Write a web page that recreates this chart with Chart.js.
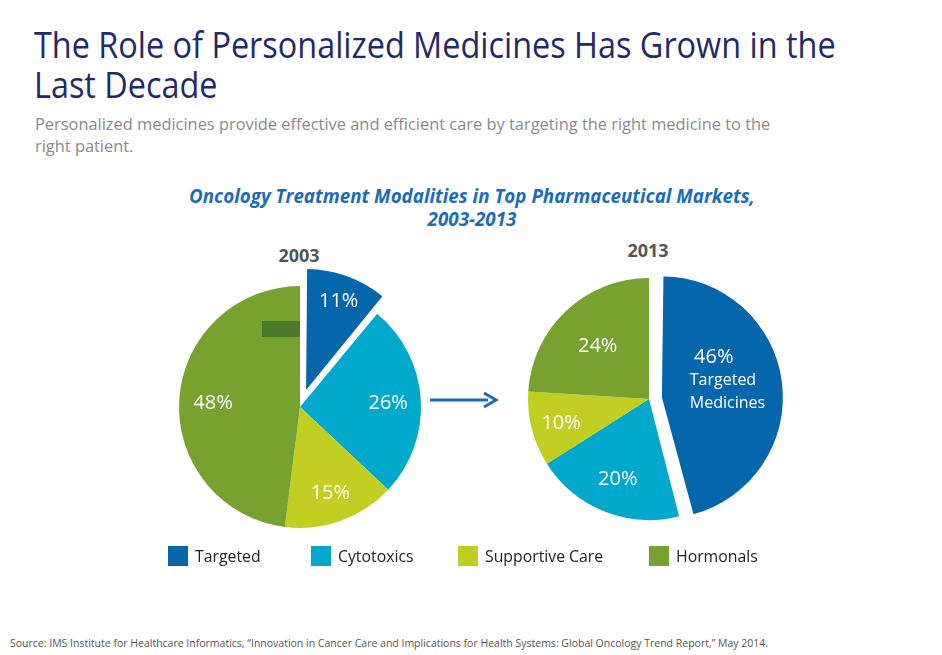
<!DOCTYPE html>
<html>
<head>
<meta charset="utf-8">
<script src="https://cdn.jsdelivr.net/npm/chart.js@4.4.1/dist/chart.umd.min.js"></script>
<style>
  body { margin: 0; background: #fff; }
  #page { position: relative; width: 942px; height: 655px; overflow: hidden;
          font-family: "Open Sans", sans-serif; }
  #title { position: absolute; left: 34px; top: 25px; font-size: 36px; line-height: 40px; color: #1f2a68;
           white-space: nowrap; transform: scaleX(0.9); transform-origin: 0 0; }
  #subtitle { position: absolute; left: 35px; top: 113px; font-size: 16.4px; line-height: 22px; color: #8a8a8a;
              white-space: nowrap; }
  #chartTitle { position: absolute; left: 0; width: 944px; top: 185px; text-align: center;
                font-size: 18.8px; line-height: 23px; font-weight: bold; font-style: italic; color: #1b6db3; }
  .year { position: absolute; font-size: 18px; font-weight: bold; color: #555; width: 80px; text-align: center; }
  .pie { position: absolute; width: 300px; height: 300px; }
  #arrow { position: absolute; left: 426px; top: 390px; }
  #legend { position: absolute; left: 0; top: 545px; width: 942px; height: 24px; font-size: 15.8px; color: #222; }
  #legend .item { position: absolute; top: 0; display: flex; align-items: center; white-space: nowrap; }
  #legend .item:nth-child(1) { left: 168px; }
  #legend .item:nth-child(2) { left: 311px; }
  #legend .item:nth-child(3) { left: 458px; }
  #legend .item:nth-child(4) { left: 649px; }
  #legend .box { width: 20px; height: 20px; margin-right: 7px; }
  #source { position: absolute; left: 10px; top: 636px; font-size: 10.5px; color: #555; white-space: nowrap; }
</style>
</head>
<body>
<div id="page">
  <div id="title">The Role of Personalized Medicines Has Grown in the<br>Last Decade</div>
  <div id="subtitle">Personalized medicines provide effective and efficient care by targeting the right medicine to the<br>right patient.</div>
  <div id="chartTitle">Oncology Treatment Modalities in Top Pharmaceutical Markets,<br>2003-2013</div>
  <div class="year" id="year0" style="left:259px; top:243px;"></div>
  <div class="year" id="year1" style="left:608px; top:238px;"></div>
  <canvas class="pie" id="pie2003" width="300" height="300" style="left:150px; top:257px;"></canvas>
  <canvas class="pie" id="pie2013" width="300" height="300" style="left:499px; top:249px;"></canvas>
  <svg id="arrow" width="80" height="22">
    <line x1="4" y1="10" x2="62" y2="10" stroke="#1b6db3" stroke-width="3"/>
    <polyline points="58,3 70,10 58,17" fill="none" stroke="#1b6db3" stroke-width="3"/>
  </svg>
  <div id="legend"></div>
  <div id="source">Source: IMS Institute for Healthcare Informatics, “Innovation in Cancer Care and Implications for Health Systems: Global Oncology Trend Report,” May 2014.</div>
</div>
<script>
const categories = ["Targeted", "Cytotoxics", "Supportive Care", "Hormonals"];
const colors = ["#0566ab", "#00a8cb", "#c2cf22", "#77a22f"];
const years = ["2003", "2013"];
const values2003 = [11, 26, 15, 48];
const values2013 = [46, 20, 10, 24];

document.getElementById("year0").textContent = years[0];
document.getElementById("year1").textContent = years[1];

// legend
let legend = document.getElementById("legend");
categories.forEach((c, i) => {
  let item = document.createElement("div");
  item.className = "item";
  item.innerHTML = `<span class="box" style="background:${colors[i]}"></span><span>${c}</span>`;
  legend.appendChild(item);
});

// keep an exploded slice the same size as the others
// (chart.js grows the radius of offset arcs a bit)
const keepRadius = {
  id: "keepRadius",
  afterDatasetsUpdate(chart) {
    chart.getDatasetMeta(0).data.forEach((arc) => {
      const off = (arc.options.offset || 0) / 4;
      if (!off) return;
      const circ = arc.endAngle - arc.startAngle;
      arc.outerRadius -= off * (1 - Math.sin(Math.min(Math.PI, circ)));
    });
  }
};

// percent labels inside the slices
const sliceLabels = {
  id: "sliceLabels",
  afterDatasetsDraw(chart, args, opts) {
    const ctx = chart.ctx;
    const arcs = chart.getDatasetMeta(0).data;
    const values = chart.data.datasets[0].data;
    ctx.save();
    ctx.fillStyle = "#fff";
    ctx.textBaseline = "middle";
    arcs.forEach((arc, i) => {
      const mid = (arc.startAngle + arc.endAngle) / 2;
      const off = (arc.options.offset || 0) / 4;
      const r = arc.outerRadius * opts.radius[i] + off;
      let x = arc.x + Math.cos(mid) * r;
      let y = arc.y + Math.sin(mid) * r + 2;
      const extra = (opts.extra && opts.extra[i]) || [];
      y -= extra.length * 18;
      ctx.textAlign = "center";
      ctx.font = "20px 'Open Sans', sans-serif";
      ctx.fillText(values[i] + "%", x, y);
      ctx.textAlign = "left";
      ctx.font = "16px 'Open Sans', sans-serif";
      extra.forEach((t, k) => ctx.fillText(t, x - 24, y + 24 + k * 23));
    });
    ctx.restore();
  }
};

// stray dark box that sits in the 2003 pie in the original slide
const strayBox = {
  id: "strayBox",
  afterDatasetsDraw(chart, args, opts) {
    if (!opts.show) return;
    const arc = chart.getDatasetMeta(0).data[0];
    chart.ctx.fillStyle = "#4a7a2a";
    chart.ctx.fillRect(arc.x - 38, arc.y - 86, 38, 16);
  }
};

function makePie(id, values, offsets, labelRadius, extra, showBox) {
  return new Chart(document.getElementById(id), {
    type: "pie",
    data: {
      labels: categories,
      datasets: [{
        data: values,
        backgroundColor: colors,
        borderWidth: 0,
        offset: offsets
      }]
    },
    options: {
      responsive: false,
      animation: false,
      radius: 121,
      layout: { padding: 0 },
      plugins: {
        legend: { display: false },
        tooltip: { enabled: false },
        sliceLabels: { radius: labelRadius, extra: extra },
        strayBox: { show: showBox }
      }
    },
    plugins: [keepRadius, sliceLabels, strayBox]
  });
}

makePie("pie2003", values2003, [72, 0, 0, 0], [0.84, 0.73, 0.74, 0.72], null, true);
makePie("pie2013", values2013, [52, 0, 0, 0], [0.47, 0.7, 0.75, 0.62], [["Targeted", "Medicines"]], false);
</script>
</body>
</html>
